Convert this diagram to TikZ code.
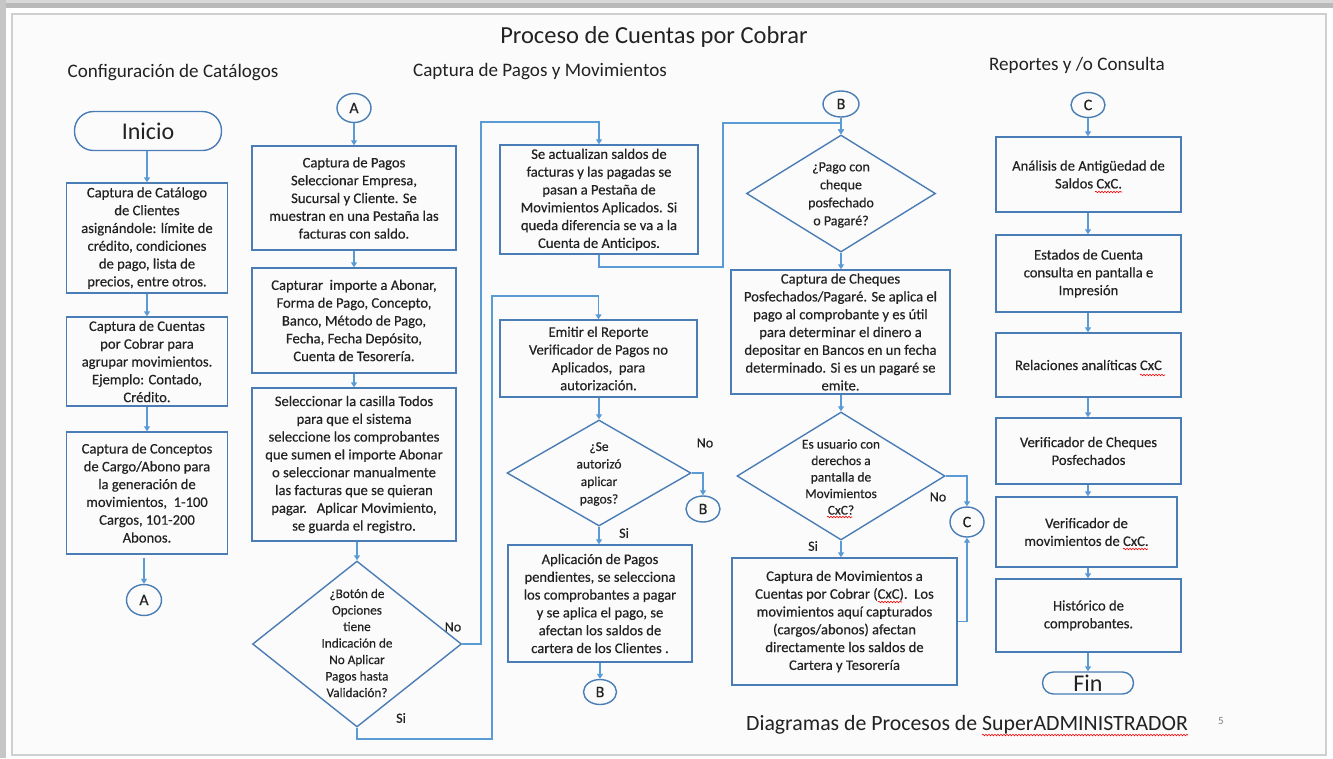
\documentclass[tikz,border=0pt]{standalone}
\usepackage{fontspec}
\setmainfont{Carlito}
\newfontfamily\heavyfont[UprightFeatures={FakeBold=0.35}]{Carlito}
\usetikzlibrary{shapes.geometric,arrows.meta,decorations.pathmorphing}
\definecolor{boxblue}{HTML}{4A7DB5}
\definecolor{lineblue}{HTML}{5B9BD5}
\definecolor{txt}{HTML}{222222}
\definecolor{slidebg}{HTML}{FBFBFB}
\definecolor{frameline}{HTML}{CFCFCF}
\begin{document}
\begin{tikzpicture}[x=1pt,y=-1pt,
  every node/.style={text=txt},
  pbox/.style={draw=boxblue, line width=1.4pt, align=center, inner sep=0pt, font=\heavyfont\fontsize{14.6}{17.8}\selectfont},
  dia/.style={draw=boxblue, line width=1.4pt, diamond, inner sep=0pt},
  dtxt/.style={align=center, inner sep=0pt, font=\heavyfont\fontsize{13.2}{16.5}\selectfont},
  conn/.style={draw=lineblue, line width=1.5pt, -{Triangle[width=6pt,length=5pt]}},
  circ/.style={draw=boxblue, line width=1.4pt, ellipse, inner sep=0pt, font=\heavyfont\fontsize{16}{16}\selectfont},
  term/.style={draw=boxblue, line width=1.4pt, inner sep=0pt, font=\fontsize{24}{24}\selectfont},
  head/.style={inner sep=0pt, font=\fontsize{19.1}{20}\selectfont},
  lab/.style={inner sep=0pt, font=\heavyfont\fontsize{14}{14}\selectfont},
  squig/.style={draw=red, line width=0.6pt, decorate, decoration={snake, segment length=3pt, amplitude=0.8pt}}
]
% page and slide frame
\fill[white] (0,0) rectangle (1333,758);
\fill[gray!55] (0,0) rectangle (1333,8);
\fill[gray!30] (0,0) rectangle (1333,3);
\fill[gray!45] (0,0) rectangle (6,758);
\useasboundingbox (0,0) rectangle (1333,758);
\draw[frameline, line width=2.2pt, fill=slidebg] (12,14) rectangle (1326,755);

% titles
\node[inner sep=0pt, font=\fontsize{24.5}{25}\selectfont] (title) at (654,37) {Proceso de Cuentas por Cobrar};
\node[head] (h1) at (173,73) {Configuración de Catálogos};
\node[head] (h2) at (540,72) {Captura de Pagos y Movimientos};
\node[head] (h3) at (1077,65) {Reportes y /o Consulta};
\node[inner sep=0pt, font=\fontsize{21.8}{22}\selectfont] (foot) at (967,725) {Diagramas de Procesos de SuperADMINISTRADOR};
\node[inner sep=0pt, font=\fontsize{11}{12}\selectfont, text=gray] (pg) at (1221,721) {5};

% column 1
\node[term, rounded corners=19pt, minimum width=147, minimum height=39] (ini) at (148,131) {Inicio};
\node[pbox, minimum width=161, minimum height=110] (cat1) at (147,238) {Captura de Catálogo\\de Clientes\\asignándole: límite de\\crédito, condiciones\\de pago, lista de\\precios, entre otros.};
\node[pbox, minimum width=161, minimum height=89] (cat2) at (147,361.5) {Captura de Cuentas\\por Cobrar para\\agrupar movimientos.\\Ejemplo: Contado,\\Crédito.};
\node[pbox, minimum width=161, minimum height=122] (cat3) at (147,493) {Captura de Conceptos\\de Cargo/Abono para\\la generación de\\movimientos,\ \ 1-100\\Cargos, 101-200\\Abonos.};
\node[circ, minimum width=35, minimum height=31] (a1) at (144,600) {A};

\draw[conn] (ini.south -| cat1.north) -- (cat1.north);
\draw[conn] (cat1.south) -- (cat2.north);
\draw[conn] (cat2.south) -- (cat3.north);
\draw[conn, shorten <=3pt] (a1.north |- cat3.south) -- (a1.north);

% column 2
\node[circ, minimum width=34, minimum height=29] (a2) at (354,108) {A};
\node[pbox, minimum width=204, minimum height=104] (p1) at (354,198) {Captura de Pagos\\Seleccionar Empresa,\\Sucursal y Cliente. Se\\muestran en una Pestaña las\\facturas con saldo.};
\node[pbox, minimum width=204, minimum height=105] (p2) at (354,320.5) {Capturar\ \ importe a Abonar,\\Forma de Pago, Concepto,\\Banco, Método de Pago,\\Fecha, Fecha Depósito,\\Cuenta de Tesorería.};
\node[pbox, minimum width=204, minimum height=153] (p3) at (354,464.5) {Seleccionar la casilla Todos\\para que el sistema\\seleccione los comprobantes\\que sumen el importe Abonar\\o seleccionar manualmente\\las facturas que se quieran\\pagar.\ \ \ Aplicar Movimiento,\\se guarda el registro.};
\node[dia, minimum width=209, minimum height=166] (d1) at (357,644) {};
\node[dtxt] (d1t) at (357,643) {¿Botón de\\Opciones\\tiene\\Indicación de\\No Aplicar\\Pagos hasta\\Validación?};
\node[lab] (d1no) at (453,627) {No};
\node[lab] (d1si) at (401,718) {Si};

\draw[conn] (a2.south) -- (p1.north);
\draw[conn] (p1.south) -- (p2.north);
\draw[conn] (p2.south) -- (p3.north);
\draw[conn] (d1.north |- p3.south) -- (d1.north);

% column 3
\node[pbox, minimum width=198, minimum height=109] (act) at (599,199.5) {Se actualizan saldos de\\facturas y las pagadas se\\pasan a Pestaña de\\Movimientos Aplicados. Si\\queda diferencia se va a la\\Cuenta de Anticipos.};
\node[pbox, minimum width=197, minimum height=77] (emit) at (598.5,358.5) {Emitir el Reporte\\Verificador de Pagos no\\Aplicados,\ \ para\\autorización.};
\node[dia, minimum width=184, minimum height=106] (d2) at (599,473) {};
\node[dtxt, font=\heavyfont\fontsize{13.5}{17.5}\selectfont] (d2t) at (599,474) {¿Se\\autorizó\\aplicar\\pagos?};
\node[lab] (d2no) at (705,443) {No};
\node[lab] (d2si) at (624,533) {Si};
\node[circ, minimum width=34, minimum height=26] (b1) at (703,509) {B};
\node[pbox, minimum width=184, minimum height=117] (apl) at (600,603.5) {Aplicación de Pagos\\pendientes, se selecciona\\los comprobantes a pagar\\y se aplica el pago, se\\afectan los saldos de\\cartera de los Clientes .};
\node[circ, minimum width=33, minimum height=25] (b2) at (600,692) {B};

\coordinate (k1) at (481,122);
\draw[conn] (d1.east) -| (k1) -| (act.north);
\coordinate (k2) at (492,739);
\coordinate (k3) at (492,296);
\draw[conn] (d1.south) |- (k2) -- (k3) -| (emit.north);
\draw[conn] (emit.south -| d2.north) -- (d2.north);
\draw[conn] (d2.east) -| (b1.north);
\draw[conn] (d2.south) -- (d2.south |- apl.north);
\draw[conn] (apl.south) -- (b2.north);

% column 4
\node[circ, minimum width=36, minimum height=26] (b3) at (841,104) {B};
\node[dia, minimum width=189, minimum height=117] (d3) at (841,193.5) {};
\node[dtxt, font=\heavyfont\fontsize{14}{18}\selectfont] (d3t) at (841,195) {¿Pago con\\cheque\\posfechado\\o Pagaré?};
\node[pbox, minimum width=219, minimum height=124] (chq) at (840.5,332) {Captura de Cheques\\Posfechados/Pagaré. Se aplica el\\pago al comprobante y es útil\\para determinar el dinero a\\depositar en Bancos en un fecha\\determinado. Si es un pagaré se\\emite.};
\node[dia, minimum width=208, minimum height=128] (d4) at (841,476) {};
\node[dtxt, font=\heavyfont\fontsize{13.4}{16.5}\selectfont] (d4t) at (841,477) {Es usuario con\\derechos a\\pantalla de\\Movimientos\\CxC?};
\node[lab] (d4no) at (938,497) {No};
\node[lab] (d4si) at (813,546) {Si};
\node[circ, minimum width=34, minimum height=30] (c1) at (967,522) {C};
\node[pbox, minimum width=225, minimum height=127] (mov) at (844.5,621.5) {Captura de Movimientos a\\Cuentas por Cobrar (CxC).\ \ Los\\movimientos aquí capturados\\(cargos/abonos) afectan\\directamente los saldos de\\Cartera y Tesorería};

\coordinate (k4) at (723,267);
\coordinate (k5) at (723,123);
\draw[conn] (act.south) |- (k4) -- (k5) -| (d3.north);
\draw[conn] (b3.south) -- (d3.north);
\draw[conn] (d3.south) -- (d3.south |- chq.north);
\draw[conn] (chq.south -| d4.north) -- (d4.north);
\draw[conn] (d4.east) -| (c1.north);
\draw[conn] (d4.south) -- (d4.south |- mov.north);
\draw[conn] (mov.east) -| (c1.south);

% column 5
\node[circ, minimum width=34, minimum height=25] (c2) at (1088,105) {C};
\node[pbox, minimum width=185, minimum height=75] (r1) at (1088.5,174.5) {Análisis de Antigüedad de\\Saldos CxC.};
\node[pbox, minimum width=185, minimum height=77] (r2) at (1088.5,273.5) {Estados de Cuenta\\consulta en pantalla e\\Impresión};
\node[pbox, minimum width=185, minimum height=64] (r3) at (1088.5,365) {Relaciones analíticas CxC};
\node[pbox, minimum width=185, minimum height=66] (r4) at (1088.5,451) {Verificador de Cheques\\Posfechados};
\node[pbox, minimum width=181, minimum height=70] (r5) at (1086.5,532) {Verificador de\\movimientos de CxC.};
\node[pbox, minimum width=185, minimum height=73] (r6) at (1088.5,615.5) {Histórico de\\comprobantes.};
\node[term, rounded corners=11pt, minimum width=91, minimum height=22] (fin) at (1088,683) {Fin};

\draw[conn] (c2.south) -- (c2.south |- r1.north);
\draw[conn] (r1.south -| c2.south) -- (c2.south |- r2.north);
\draw[conn] (r2.south -| c2.south) -- (c2.south |- r3.north);
\draw[conn] (r3.south -| c2.south) -- (c2.south |- r4.north);
\draw[conn] (r4.south -| c2.south) -- (c2.south |- r5.north);
\draw[conn] (r5.south -| c2.south) -- (c2.south |- r6.north);
\draw[conn] (r6.south -| c2.south) -- (fin.north);

% spell-check underlines
\draw[squig] (827,517) -- (852,517);
\draw[squig] (878,602) -- (902,602);
\draw[squig] (1095,192) -- (1122,192);
\draw[squig] (1140,375) -- (1165,375);
\draw[squig] (1123,549) -- (1148,549);
\draw[squig] (982,735) -- (1188,735);
\end{tikzpicture}
\end{document}
